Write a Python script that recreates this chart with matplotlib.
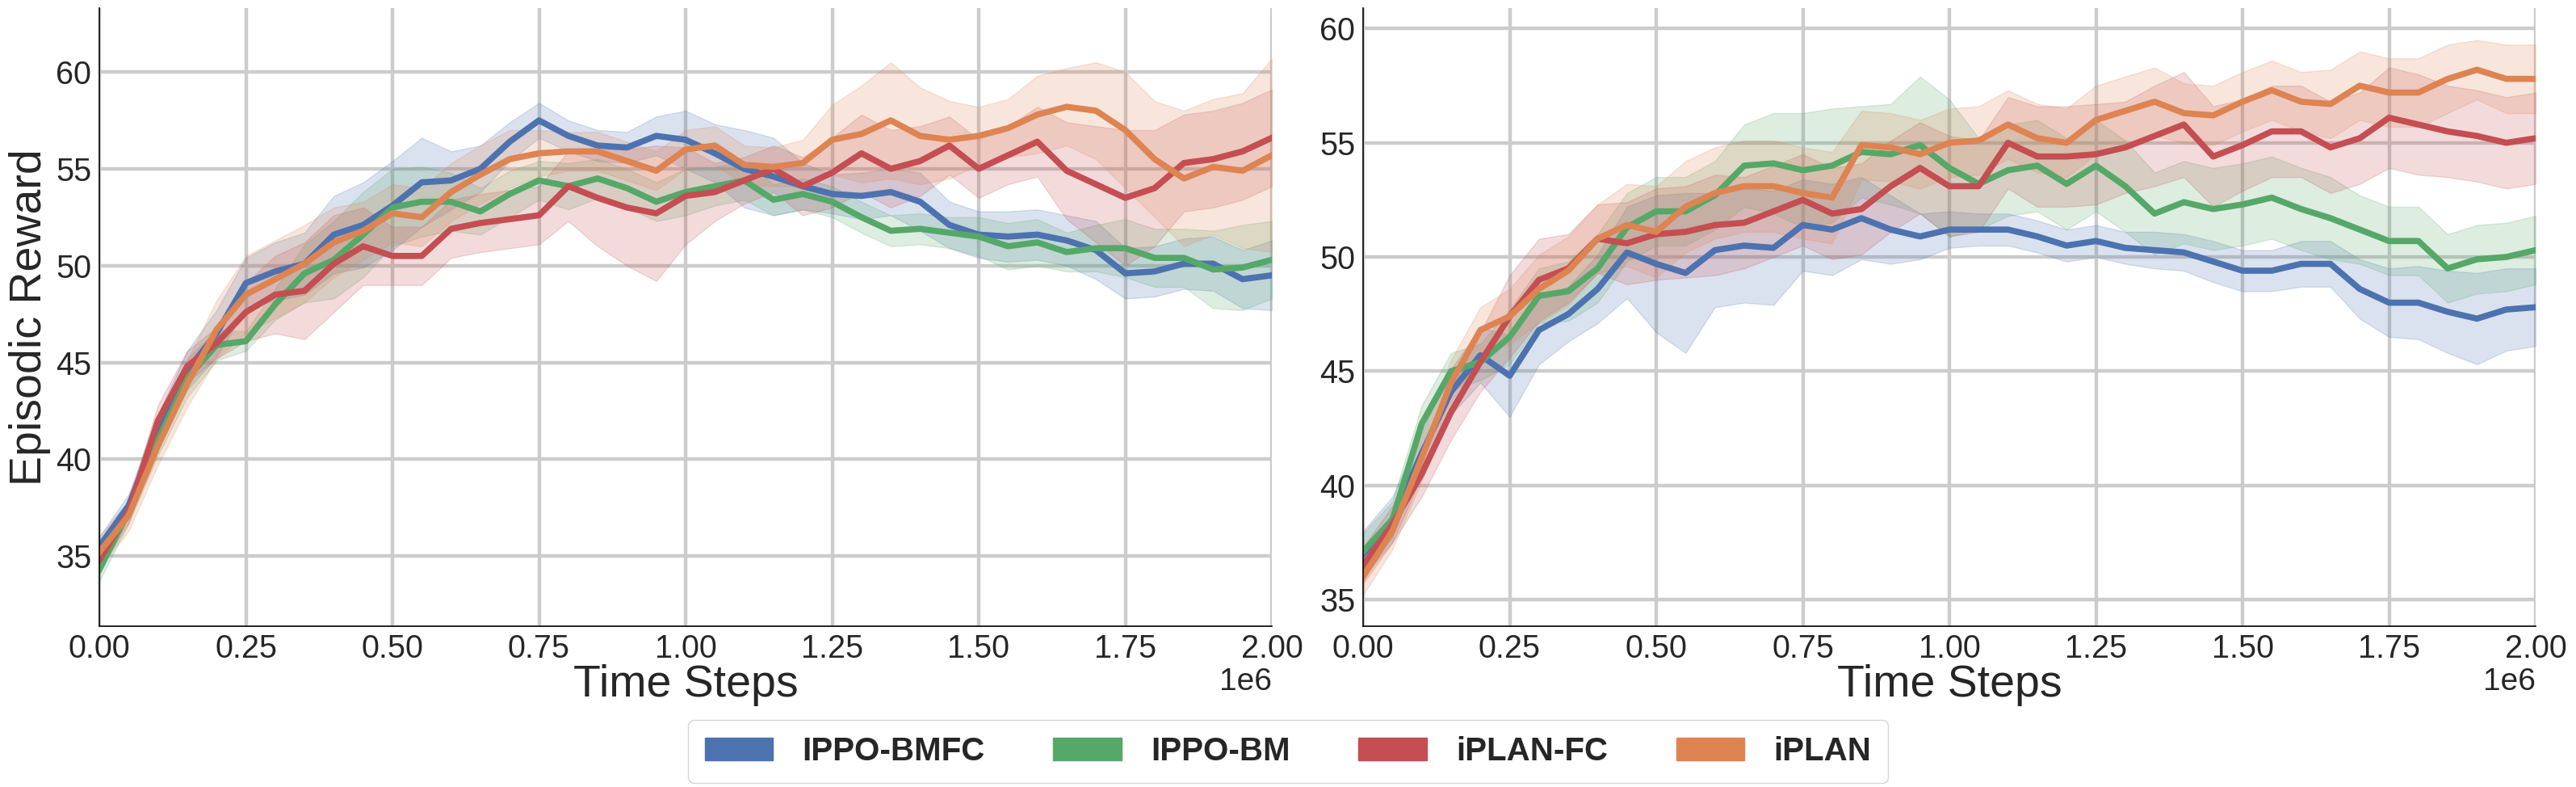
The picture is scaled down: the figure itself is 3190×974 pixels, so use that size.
import numpy as np
import matplotlib
matplotlib.use("Agg")
import matplotlib.pyplot as plt
from matplotlib.patches import Patch

# ---------------- data ----------------
steps = np.linspace(0, 2.0e6, 41)  # every 0.05e6

methods = ["IPPO-BMFC", "IPPO-BM", "iPLAN-FC", "iPLAN"]
colors = ["#4C72B0", "#55A868", "#C44E52", "#DD8452"]

# Left panel: mean curves
left_bmfc = [35.5, 37.6, 41.5, 44.6, 46.5, 49.1, 49.7, 50.1, 51.6, 52.1, 53.1,
             54.3, 54.4, 55.0, 56.4, 57.5, 56.7, 56.2, 56.1, 56.7, 56.5,
             55.8, 55.0, 54.6, 54.1, 53.7, 53.6, 53.8, 53.3, 52.1, 51.6,
             51.5, 51.6, 51.3, 50.8, 49.6, 49.7, 50.1, 50.1, 49.3, 49.5]
left_bm = [34.3, 37.3, 41.0, 44.2, 45.9, 46.1, 48.0, 49.6, 50.3, 51.6, 53.0,
           53.3, 53.3, 52.8, 53.7, 54.4, 54.1, 54.5, 54.0, 53.3, 53.8,
           54.1, 54.4, 53.4, 53.7, 53.3, 52.5, 51.8, 51.9, 51.7, 51.5,
           51.0, 51.2, 50.7, 50.9, 50.9, 50.4, 50.4, 49.8, 49.9, 50.3]
left_iplanfc = [34.8, 37.3, 42.0, 44.8, 46.0, 47.6, 48.5, 48.7, 50.1, 51.0, 50.5,
                50.5, 51.9, 52.2, 52.4, 52.6, 54.1, 53.5, 53.0, 52.7, 53.6,
                53.8, 54.4, 55.0, 54.1, 54.8, 55.8, 55.0, 55.4, 56.2, 55.0,
                55.7, 56.4, 54.9, 54.2, 53.5, 54.0, 55.3, 55.5, 55.9, 56.6]
left_iplan = [35.2, 37.1, 40.7, 43.9, 46.7, 48.5, 49.3, 50.1, 51.2, 51.8, 52.7,
              52.5, 53.8, 54.7, 55.5, 55.8, 55.9, 55.9, 55.4, 54.9, 56.0,
              56.2, 55.2, 55.1, 55.3, 56.5, 56.8, 57.5, 56.7, 56.5, 56.7,
              57.1, 57.8, 58.2, 58.0, 57.0, 55.5, 54.5, 55.1, 54.9, 55.7]

# Left panel: half-widths of shaded bands
left_bmfc_hw = [0.5, 0.6, 0.8, 1.0, 1.2, 1.3, 1.5, 1.6, 2.0, 2.2, 2.3,
                2.3, 1.5, 1.2, 1.0, 0.9, 0.8, 0.8, 0.8, 1.0, 1.5,
                1.5, 2.0, 2.0, 1.2, 1.0, 1.2, 1.2, 1.5, 1.2, 1.2,
                1.3, 1.3, 1.3, 1.5, 1.3, 1.3, 1.3, 1.4, 1.5, 1.8]
left_bm_hw = [0.6, 0.6, 0.8, 1.0, 0.8, 0.5, 0.8, 1.5, 2.0, 2.2, 2.0,
              1.8, 1.5, 1.2, 1.2, 1.0, 1.2, 1.0, 1.0, 1.0, 1.2,
              1.0, 1.0, 0.8, 0.8, 0.8, 0.8, 0.8, 0.8, 0.8, 1.0,
              1.2, 1.2, 1.0, 1.2, 1.5, 1.5, 1.5, 2.0, 2.2, 2.0]
left_iplanfc_hw = [0.5, 0.6, 0.8, 0.8, 0.8, 1.5, 2.0, 2.5, 2.5, 2.0, 1.5,
                   1.5, 1.5, 1.5, 1.5, 1.5, 1.8, 2.5, 3.0, 3.5, 2.5,
                   1.5, 1.2, 1.2, 1.5, 1.8, 2.0, 2.0, 1.8, 1.5, 1.5,
                   1.5, 1.8, 2.5, 3.0, 3.5, 3.0, 2.5, 2.5, 2.5, 2.5]
left_iplan_hw = [0.8, 0.8, 1.0, 1.2, 1.5, 2.0, 2.0, 2.0, 1.8, 1.5, 1.5,
                 1.5, 1.5, 1.5, 1.5, 1.2, 1.0, 1.0, 1.0, 1.0, 1.0,
                 1.0, 1.0, 1.0, 1.2, 1.8, 2.5, 3.0, 2.5, 2.0, 1.5,
                 1.5, 2.0, 2.0, 2.5, 3.0, 3.0, 3.5, 3.5, 4.0, 5.0]

# Right panel: mean curves
right_bmfc = [37.0, 38.5, 41.4, 44.1, 45.7, 44.8, 46.8, 47.5, 48.6, 50.2, 49.7,
              49.3, 50.3, 50.5, 50.4, 51.4, 51.2, 51.7, 51.2, 50.9, 51.2,
              51.2, 51.2, 50.9, 50.5, 50.7, 50.4, 50.3, 50.2, 49.8, 49.4,
              49.4, 49.7, 49.7, 48.6, 48.0, 48.0, 47.6, 47.3, 47.7, 47.8]
right_bm = [37.1, 38.5, 42.7, 45.0, 45.4, 46.5, 48.3, 48.5, 49.5, 51.3, 52.0,
            52.0, 52.7, 54.0, 54.1, 53.8, 54.0, 54.6, 54.5, 54.9, 53.9,
            53.2, 53.8, 54.0, 53.2, 54.0, 53.1, 51.9, 52.4, 52.1, 52.3,
            52.6, 52.1, 51.7, 51.2, 50.7, 50.7, 49.5, 49.9, 50.0, 50.3]
right_iplanfc = [36.5, 38.3, 40.5, 43.2, 45.4, 47.4, 49.0, 49.5, 50.8, 50.6, 51.0,
                 51.1, 51.4, 51.5, 52.0, 52.5, 51.9, 52.1, 53.1, 53.9, 53.1,
                 53.1, 55.0, 54.4, 54.4, 54.5, 54.8, 55.3, 55.8, 54.4, 54.9,
                 55.5, 55.5, 54.8, 55.2, 56.1, 55.8, 55.5, 55.3, 55.0, 55.2]
right_iplan = [36.0, 38.0, 41.2, 44.5, 46.8, 47.4, 48.6, 49.4, 50.8, 51.4, 51.1,
               52.2, 52.8, 53.1, 53.1, 52.8, 52.6, 54.9, 54.8, 54.5, 55.0,
               55.1, 55.8, 55.2, 55.0, 56.0, 56.4, 56.8, 56.3, 56.2, 56.8,
               57.3, 56.8, 56.7, 57.5, 57.2, 57.2, 57.8, 58.2, 57.8, 57.8]

# Right panel: half-widths of shaded bands
right_bmfc_hw = [1.0, 1.0, 1.0, 1.0, 1.2, 1.8, 1.5, 1.2, 1.5, 2.0, 3.0,
                 3.5, 2.5, 2.5, 2.5, 2.0, 2.0, 1.8, 1.5, 1.0, 0.8,
                 0.7, 0.7, 0.7, 0.7, 0.7, 0.7, 0.8, 0.8, 0.9, 0.9,
                 0.9, 1.0, 1.0, 1.3, 1.5, 1.6, 1.8, 2.0, 1.8, 1.7]
right_bm_hw = [0.8, 0.8, 0.8, 0.8, 0.8, 1.2, 1.2, 1.3, 1.5, 1.5, 1.5,
               1.5, 1.5, 1.8, 2.2, 2.5, 2.5, 2.0, 2.2, 3.0, 3.0,
               2.0, 2.0, 2.0, 2.0, 2.0, 2.0, 1.8, 1.8, 1.8, 1.8,
               1.8, 1.8, 1.8, 1.5, 1.5, 1.5, 1.5, 1.5, 1.5, 1.5]
right_iplanfc_hw = [0.8, 0.8, 1.0, 1.2, 1.3, 1.8, 1.8, 1.5, 1.5, 1.8, 2.0,
                    2.0, 2.2, 2.0, 2.0, 2.0, 2.0, 2.0, 2.0, 2.0, 2.2,
                    2.0, 2.0, 2.2, 2.2, 2.2, 2.0, 2.2, 2.3, 2.2, 2.0,
                    2.0, 2.0, 2.0, 2.0, 2.2, 2.2, 2.0, 2.0, 2.0, 2.0]
right_iplan_hw = [0.8, 0.8, 1.0, 1.0, 1.0, 1.2, 1.5, 1.5, 1.5, 1.8, 2.0,
                  2.0, 2.0, 2.0, 2.0, 2.0, 2.0, 1.5, 1.5, 1.5, 1.5,
                  1.5, 1.5, 1.5, 1.5, 1.5, 1.5, 1.5, 1.3, 1.3, 1.3,
                  1.3, 1.3, 1.5, 1.5, 1.5, 1.5, 1.5, 1.3, 1.5, 1.5]

y_ticks = [35, 40, 45, 50, 55, 60]
x_label = "Time Steps"
y_label = "Episodic Reward"

panels = [
    dict(means=[left_bmfc, left_bm, left_iplanfc, left_iplan],
         hws=[left_bmfc_hw, left_bm_hw, left_iplanfc_hw, left_iplan_hw],
         ylim=(31.4, 63.3)),
    dict(means=[right_bmfc, right_bm, right_iplanfc, right_iplan],
         hws=[right_bmfc_hw, right_bm_hw, right_iplanfc_hw, right_iplan_hw],
         ylim=(33.85, 60.9)),
]

# ---------------- figure ----------------
plt.rcParams['font.family'] = ['Liberation Sans', 'DejaVu Sans']
DPI = 100
fig = plt.figure(figsize=(31.9, 9.74), dpi=DPI)

axes_pos = [
    [123 / 3190, 1 - 774.5 / 974, (1575 - 123) / 3190, (774.5 - 10) / 974],
    [1688 / 3190, 1 - 774.5 / 974, (3140 - 1688) / 3190, (774.5 - 10) / 974],
]

text_color = "#262626"
for i, (pos, p) in enumerate(zip(axes_pos, panels)):
    ax = fig.add_axes(pos)
    ax.set_axisbelow(True)
    ax.grid(True, color="#cccccc", linewidth=3.2)
    for m, hw, c in zip(p["means"], p["hws"], colors):
        m = np.asarray(m)
        hw = np.asarray(hw)
        ax.fill_between(steps, m - hw, m + hw, color=c, alpha=0.2, linewidth=1)
        ax.plot(steps, m, color=c, linewidth=5.5, solid_joinstyle="round")
    ax.set_xlim(0, 2.0e6)
    ax.set_ylim(*p["ylim"])
    ax.set_yticks(y_ticks)
    ax.set_xticks(np.linspace(0, 2.0e6, 9))
    for s in ["top", "right"]:
        ax.spines[s].set_visible(False)
    for s in ["left", "bottom"]:
        ax.spines[s].set_color("black")
        ax.spines[s].set_linewidth(1.2)
    ax.tick_params(axis="both", length=0, pad=7, labelsize=28.5, labelcolor=text_color)
    ax.xaxis.get_offset_text().set_fontsize(28)
    ax.xaxis.get_offset_text().set_color(text_color)
    ax.set_xlabel(x_label, fontsize=40, color=text_color, labelpad=0)
    if i == 0:
        ax.set_ylabel(y_label, fontsize=40, color=text_color, labelpad=4)

handles = [Patch(facecolor=c, edgecolor=c, label=l) for c, l in zip(colors, methods)]
leg = fig.legend(handles=handles, loc="center", bbox_to_anchor=(0.5, 0.045), ncol=4,
                 frameon=True, fancybox=True, prop={'weight': 'bold', 'size': 29},
                 handlelength=2.1, handletextpad=0.9, columnspacing=2.1,
                 edgecolor="#cccccc", borderpad=0.5)
for t in leg.get_texts():
    t.set_color(text_color)

fig.savefig("out.png", dpi=DPI)
